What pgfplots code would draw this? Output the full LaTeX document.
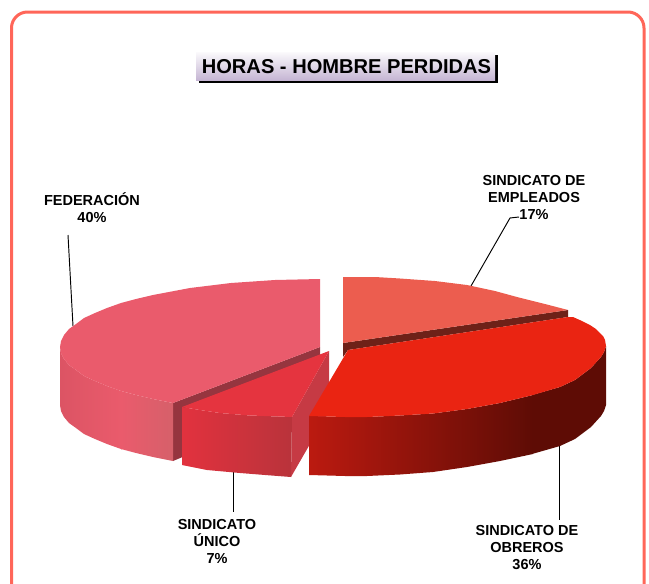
\documentclass[border=0pt]{standalone}
\usepackage{fontspec}
\setmainfont{Liberation Sans}
\usepackage{pgfplots}
\pgfplotsset{compat=1.18}
\definecolor{bord}{HTML}{FF6659}
\definecolor{pinkt}{HTML}{EA5B6C}
\definecolor{pinkl}{HTML}{DC5464}
\definecolor{pinkr}{HTML}{D6606A}
\definecolor{pinkd}{HTML}{96353F}
\definecolor{uni}{HTML}{E5343F}
\definecolor{unil}{HTML}{E2323E}
\definecolor{unir}{HTML}{B9333B}
\definecolor{unif}{HTML}{C63A44}
\definecolor{emp}{HTML}{EC5D4F}
\definecolor{empd}{HTML}{6E2118}
\definecolor{redt}{HTML}{EA2412}
\definecolor{redl}{HTML}{BB1A10}
\definecolor{redd}{HTML}{5E0C05}
\definecolor{titb}{HTML}{C5B5D3}
\tikzset{lbl/.style={font=\fontsize{14.5}{17}\selectfont\bfseries,align=center,text=black,inner sep=0pt}}
\begin{document}
\begin{tikzpicture}[x=1pt,y=1pt]
\useasboundingbox (0,0) rectangle (649,584);
\begin{axis}[at={(0,0)},anchor=south west,scale only axis,width=649pt,height=584pt,
  xmin=0,xmax=649,ymin=0,ymax=584,y dir=reverse,hide axis,
  no markers]
\draw[bord,line width=3pt,rounded corners=16pt] (axis cs:11.5,620) -- (axis cs:11.5,12) -- (axis cs:644,12) -- (axis cs:644,620);
% leader lines
\addplot[black,line width=0.95pt] coordinates {(68,235) (73,326)};
\addplot[black,line width=0.95pt] coordinates {(519,217) (510,218) (471,286)};
\addplot[black,line width=0.95pt] coordinates {(559,440) (559,520)};
\addplot[black,line width=0.95pt] coordinates {(233,470) (233,512)};
% FEDERACION
\addplot[draw=none,fill=pinkd] coordinates {(173,403) (320,347) (320,357) (185,408) (185,456) (173,461)} --cycle;
\addplot[draw=none,shading=axis,left color=pinkl,right color=pinkt] coordinates {(60,347) (61,353) (64,359) (69,365) (76,370) (84,376) (95,381) (107,386) (121,391) (122,391) (122,449.5) (121,449) (107,444) (95,439) (84,434) (76,428) (69,423) (64,417) (61,411) (60,405)} --cycle;
\addplot[draw=none,shading=axis,left color=pinkt,right color=pinkr] coordinates {(121,391) (136,395) (153,399) (173,403) (173,461) (153,457) (136,453) (121,449)} --cycle;
\addplot[draw=none,fill=pinkt] coordinates {(320,279) (275,280) (231,283) (190,288) (153,295) (136,299) (121,303) (107,308) (95,313) (84,318) (76,324) (69,329) (64,335) (61,341) (60,347) (61,353) (64,359) (69,365) (76,370) (84,376) (95,381) (107,386) (121,391) (136,395) (153,399) (173,403) (320,347)} --cycle;
% UNICO
\addplot[draw=none,fill=unif] coordinates {(329,351) (292,417) (291,477) (329,411)} --cycle;
\addplot[draw=none,shading=axis,left color=unil,right color=unir] coordinates {(182,407) (200,410) (220,413) (250,415.5) (292,417) (291,477) (265,475) (240,473) (207,470) (182,465)} --cycle;
\addplot[draw=none,fill=uni] coordinates {(182,407) (329,351) (292,417) (250,415.5) (220,413) (200,410)} --cycle;
% EMPLEADOS
\addplot[draw=none,fill=empd] coordinates {(343,343) (568,310) (568,317) (348,350) (343,357)} --cycle;
\addplot[draw=none,fill=emp] coordinates {(343,277) (375,277) (400,278.5) (435,281) (467,285) (495,291) (517,297) (545,304) (568,310) (343,343)} --cycle;
% OBREROS
\addplot[draw=none,shading=axis,left color=redl,right color=redd] coordinates {(309,416) (345,417) (367,417) (400,415.5) (433,413.5) (467,409) (500,403) (533,395) (533,454) (500,461) (467,467) (433,472) (400,474.5) (367,476) (345,476) (309,475)} --cycle;
\addplot[draw=none,fill=redd] coordinates {(532,395) (560,387) (575,380) (591,368) (601,357) (604,352) (606,346) (606,405) (604,411) (601,416) (591,427) (575,439) (560,446) (532,454)} --cycle;
\addplot[draw=none,fill=redt] coordinates {(573,317) (582,321) (590,325) (596,329) (600,333) (603,336) (605,340) (606,346) (604,352) (601,357) (591,368) (575,380) (560,387) (533,395) (500,403) (467,409) (433,413.5) (400,415.5) (367,417) (345,417) (309,416) (348,350) (568,317)} --cycle;
% Title
\fill[black] (axis cs:199,55) rectangle (axis cs:498,83);
\node[inner sep=0pt,minimum width=299pt,minimum height=28pt,top color=white!92!titb,bottom color=titb,anchor=north west,text=black,font=\fontsize{20.1}{24}\selectfont\bfseries] at (axis cs:196,52) {\hspace{1.5pt}HORAS - HOMBRE PERDIDAS};
% labels
\node[lbl] at (axis cs:92,207.5) {FEDERACIÓN\\40\%};
\node[lbl] at (axis cs:534,197.5) {SINDICATO DE\\EMPLEADOS\\17\%};
\node[lbl] at (axis cs:217,541.5) {SINDICATO\\ÚNICO\\7\%};
\node[lbl] at (axis cs:527,548) {SINDICATO DE\\OBREROS\\36\%};
\end{axis}
\end{tikzpicture}
\end{document}
